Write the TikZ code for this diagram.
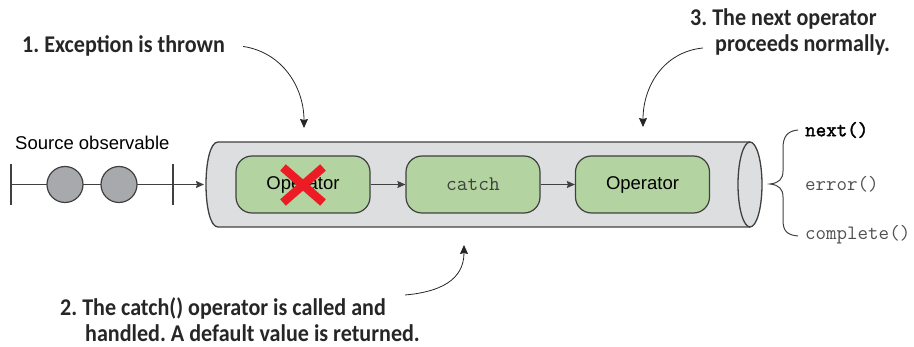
\documentclass[tikz,border=0pt]{standalone}
\usepackage{fontspec}
\setmainfont{Liberation Sans}
\newfontfamily\calloutfont[FakeStretch=0.92]{Carlito}
\newfontfamily\codefont{Latin Modern Mono}
\newfontfamily\codeboldfont[FakeBold=2]{Latin Modern Mono}
\usetikzlibrary{arrows.meta, positioning, calc}
\definecolor{pipegray}{RGB}{221, 222, 224}
\definecolor{edgegray}{RGB}{64, 64, 64}
\definecolor{opgreen}{RGB}{179, 212, 160}
\definecolor{marblegray}{RGB}{168, 169, 173}
\definecolor{crossred}{RGB}{237, 28, 36}
\definecolor{eventgray}{RGB}{80, 80, 80}
\frenchspacing
\tikzset{
  >=Stealth,
  flowarrow/.style={-{Stealth[length=8pt, width=7pt, inset=1pt]}, line width=1pt, edgegray},
  callarrow/.style={-{Stealth[length=9pt, width=8pt, inset=1pt]}, line width=0.8pt, black!85},
  opbox/.style={draw=edgegray, fill=opgreen, rounded corners=16pt, line width=1.2pt, minimum width=134pt, minimum height=57pt, font=\fontsize{18.5}{22}\selectfont},
  marble/.style={circle, draw=edgegray, fill=marblegray, line width=1.2pt, minimum size=36pt, inner sep=0pt},
  callout/.style={font=\calloutfont\bfseries\fontsize{24}{26}\selectfont, align=left, inner sep=0pt, text=black!85},
  eventtext/.style={font=\codefont\fontsize{20.4}{22}\selectfont, anchor=west, inner sep=0pt}
}

\begin{document}
\begin{tikzpicture}[x=1pt, y=-1pt]
    \useasboundingbox (0,0) rectangle (914,347);
    % pipe
    \fill[pipegray] (218,142) -- (750,142) -- (750,227) -- (218,227) .. controls (202,227) and (202,142) .. (218,142);
    \draw[edgegray, line width=1.3pt] (750,142) -- (218,142) .. controls (202,142) and (202,227) .. (218,227) -- (750,227);
    \draw[edgegray, line width=1.3pt, fill=pipegray] (750,184.5) ellipse [x radius=12, y radius=42.5];
    \coordinate (pipeW) at (204,184.5);
    % operators
    \node[opbox] (opFail) at (303,184.5) {Operator};
    \node[opbox, font=\codefont\fontsize{20.8}{22}\selectfont, text=edgegray] (opCatch) at (473,184.5) {catch};
    \node[opbox] (opNext) at (642.5,184.5) {Operator};
    \draw[flowarrow] (opFail) -- (opCatch);
    \draw[flowarrow] (opCatch) -- (opNext);
    \draw[crossred, line width=8.5pt] ([shift={(-20,-17)}]opFail.center) -- ([shift={(20,18)}]opFail.center)
        ([shift={(20,-17)}]opFail.center) -- ([shift={(-20,18)}]opFail.center);
    % source observable
    \node[anchor=base west, inner sep=0pt, font=\fontsize{18.5}{22}\selectfont] (srcLabel) at (15,150) {Source observable};
    \coordinate (tickA) at (11,184.5);
    \coordinate (tickB) at (173,184.5);
    \draw[edgegray, line width=1.2pt] ([yshift=-20.5pt]tickA) -- ([yshift=20.5pt]tickA)
        ([yshift=-20.5pt]tickB) -- ([yshift=20.5pt]tickB);
    \draw[flowarrow] (tickA) -- (pipeW);
    \node[marble] (m1) at (65,184.5) {};
    \node[marble] (m2) at (119,184.5) {};
    % events
    \node[eventtext, font=\codeboldfont\fontsize{20.4}{22}\selectfont] (evNext) at (805,130) {next()};
    \node[eventtext, text=eventgray] (evError) at (805,184) {error()};
    \node[eventtext, text=eventgray] (evDone) at (805,235) {complete()};
    \draw[edgegray, line width=1pt] (798,130) .. controls (787,131) and (783,137) .. (783,148) -- (783,171)
        .. controls (783,179) and (779,183) .. (770,184) .. controls (779,185) and (783,189) .. (783,197)
        -- (783,220) .. controls (783,231) and (787,235) .. (798,236);
    % callouts
    \node[callout, anchor=base west] (noteThrown) at (22,53) {1. Exception is thrown};
    \node[callout, anchor=base west] (noteNext) at (690,52) {3. The next operator\\\hspace*{25pt}proceeds normally.};
    \node[callout, anchor=base west] (noteCatch) at (60,342) {2. The catch() operator is called and\\\hspace*{25pt}handled. A default value is returned.};
    \coordinate (hitFail) at (304,128);
    \coordinate (hitNext) at (643,127);
    \coordinate (hitCatch) at (464,245);
    \draw[callarrow] ([xshift=18pt]noteThrown.east) .. controls +(40,6) and +(0,-40) .. (hitFail);
    \draw[callarrow] ([shift={(13,-8)}]noteNext.south west) .. controls +(-40,4) and +(0,-40) .. (hitNext);
    \draw[callarrow] ([shift={(-15,-3)}]noteCatch.north east) .. controls +(35,-3) and +(0,35) .. (hitCatch);
\end{tikzpicture}
\end{document}
